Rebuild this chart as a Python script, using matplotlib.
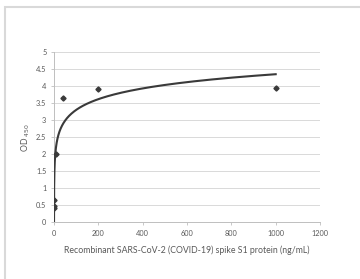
import numpy as np
import matplotlib
matplotlib.use("Agg")
import matplotlib.pyplot as plt
from matplotlib.patches import Rectangle

# data
conc = [0.064, 0.32, 1.6, 8, 40, 200, 1000]
od450 = [0.40, 0.46, 0.66, 2.0, 3.65, 3.9, 3.95]
x_ticks = [0, 200, 400, 600, 800, 1000, 1200]
y_ticks = [0, 0.5, 1, 1.5, 2, 2.5, 3, 3.5, 4, 4.5, 5]

# logarithmic trendline (as in the spreadsheet chart)
a, b = np.polyfit(np.log(conc), od450, 1)
xs = np.logspace(np.log10(min(conc)), np.log10(max(conc)), 400)
ys = a * np.log(xs) + b

plt.rcParams["font.family"] = ["Lato", "DejaVu Sans"]

fig = plt.figure(figsize=(3.6, 2.79), dpi=100)
ax = fig.add_axes([0.15, 0.204, 0.739, 0.61])

# outer chart frame
fig.patches.append(Rectangle((5 / 360, -0.1), 1.2, 1 - 7 / 279 + 0.1,
                             transform=fig.transFigure, fill=False,
                             edgecolor="#d9d9d9", linewidth=1.5))

ax.plot(xs, ys, color="#3a3a3a", linewidth=1.5, zorder=3)
ax.plot(conc, od450, linestyle="none", marker="D", markersize=2.6,
        color="#3a3a3a", zorder=4)

ax.set_xlim(0, 1200)
ax.set_ylim(0, 5)
ax.set_xticks(x_ticks)
ax.set_yticks(y_ticks)
ax.set_yticklabels([f"{v:g}" for v in y_ticks])
ax.grid(axis="y", color="#d9d9d9", linewidth=0.7)
ax.set_axisbelow(True)

for side in ["top", "right"]:
    ax.spines[side].set_visible(False)
for side in ["left", "bottom"]:
    ax.spines[side].set_color("#bfbfbf")
    ax.spines[side].set_linewidth(0.7)

ax.tick_params(axis="both", labelsize=5.3, colors="#595959",
               length=2.5, width=0.6, pad=3)
ax.tick_params(axis="both", color="#bfbfbf")

ax.set_xlabel("Recombinant SARS-CoV-2 (COVID-19) spike S1 protein (ng/mL)",
              fontsize=6.3, color="#595959", labelpad=6)
ax.set_ylabel("OD $_{450}$", fontsize=6.3, color="#595959", labelpad=3)

fig.savefig("out.png", dpi=100)
